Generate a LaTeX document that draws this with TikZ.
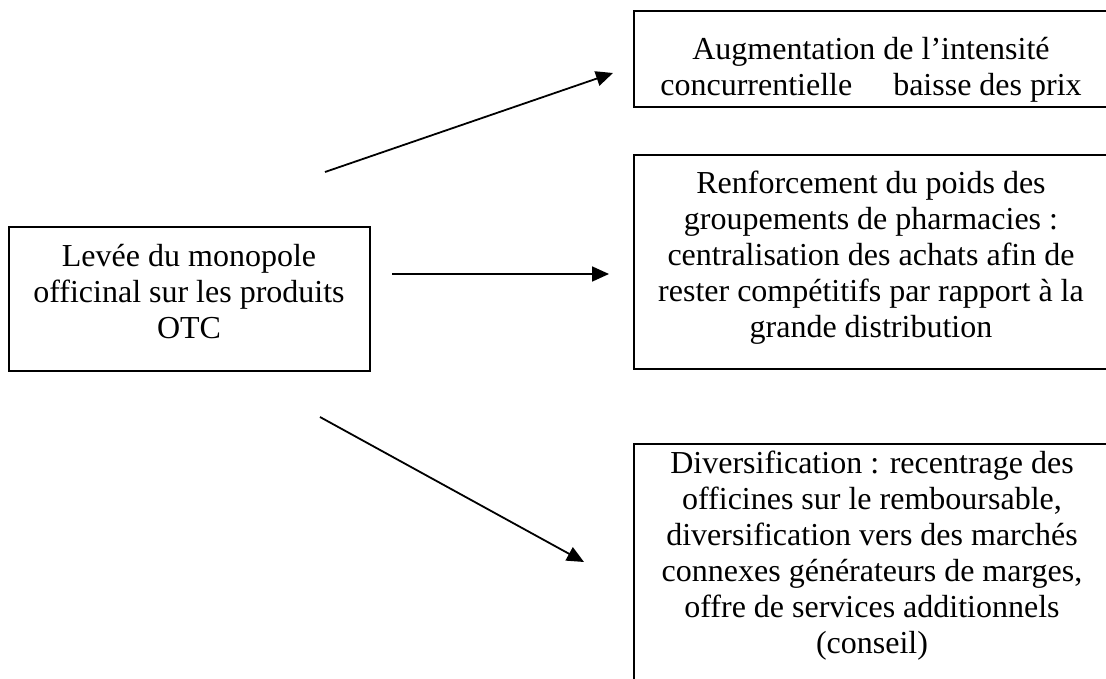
\documentclass[tikz,border=0pt]{standalone}
\usepackage{fontspec}
\setmainfont{Liberation Serif}[Ligatures={TeX,NoCommon}]
\usetikzlibrary{arrows.meta}
\tikzset{
  box/.style={draw, line width=2pt, rectangle, anchor=north west, inner sep=0pt},
  txt/.style={anchor=north, align=center, inner sep=0pt, font=\fontsize{32}{36}\selectfont},
  conn/.style={line width=1.8pt, -{Triangle[length=17pt,width=15pt]}}
}
\newcommand{\topstrut}{\rule{0pt}{26pt}}
\begin{document}
\begin{tikzpicture}[x=1pt,y=-1pt]
\useasboundingbox[fill=white] (0,0) rectangle (1106,679);
\clip (0,0) rectangle (1106,679);
% boxes
\node[box, minimum width=361pt, minimum height=144pt] (src) at (8,226) {};
\node[box, minimum width=490pt, minimum height=96pt] (boxA) at (633,10) {};
\node[box, minimum width=490pt, minimum height=214pt] (boxB) at (633,154) {};
\node[box, minimum width=490pt, minimum height=262pt] (boxC) at (633,443) {};
% texts
\node[txt] (srcT) at (189,240) {\topstrut Levée du monopole\\officinal sur les produits\\OTC};
\node[txt] (aT) at (871,33) {\topstrut Augmentation de l’intensité\\concurrentielle\hspace{41pt}baisse des prix};
\node[txt] (bT) at (871,167) {\topstrut Renforcement du poids des\\groupements de pharmacies :\\centralisation des achats afin de\\rester compétitifs par rapport à la\\grande distribution};
\node[txt] (cT) at (872,447) {\topstrut Diversification : recentrage des\\officines sur le remboursable,\\diversification vers des marchés\\connexes générateurs de marges,\\offre de services additionnels\\(conseil)};
% connector ends
\coordinate (a1s) at (325,172);
\coordinate (a1e) at (613,73);
\coordinate (a2s) at (392,274);
\coordinate (a2e) at (609,274);
\coordinate (a3s) at (320,417);
\coordinate (a3e) at (584,562);
\draw[conn] (a1s) -- (a1e);
\draw[conn] (a2s) -- (a2e);
\draw[conn] (a3s) -- (a3e);
\end{tikzpicture}
\end{document}
